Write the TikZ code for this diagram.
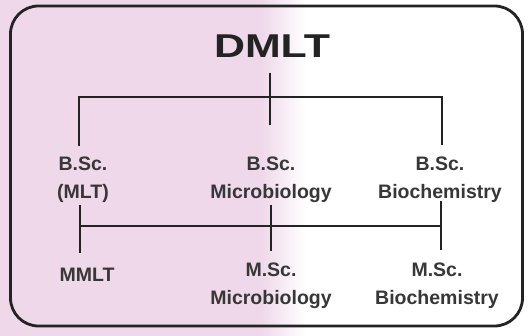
\documentclass[tikz,border=0pt]{standalone}
\usepackage{fontspec}
\setmainfont{Liberation Sans}
\usetikzlibrary{calc}
\definecolor{pinkbg}{RGB}{238,216,234}
\definecolor{inkc}{RGB}{35,35,35}
\definecolor{txtc}{RGB}{55,55,55}
\tikzset{
  lbl/.style={font=\fontsize{19.5}{28}\selectfont\bfseries, text=txtc, align=center, inner sep=0pt},
  conn/.style={draw=inkc, line width=2.4pt},
  frame/.style={draw=inkc, line width=2.8pt, rounded corners=28pt}
}
\begin{document}
\begin{tikzpicture}[x=1pt,y=-1pt]
\useasboundingbox (0,0) rectangle (530,336);
% background
\fill[pinkbg] (0,0) rectangle (262,336);
\shade[left color=pinkbg, right color=white] (261,0) rectangle (305,336);
\fill[white] (304.5,0) rectangle (530,336);
% frame
\draw[frame] (10.5,6) rectangle (522.5,326);
% nodes
\node[font=\fontsize{33}{33}\selectfont\bfseries, text=inkc, inner sep=0pt] (dmlt) at (272,46) {\scalebox{1.3}[1]{DMLT}};
\node[lbl] (b1) at (83,180) {B.Sc.\\(MLT)};
\node[lbl] (b2) at (271,180) {B.Sc.\\Microbiology};
\node[lbl] (b3) at (440,180) {B.Sc.\\Biochemistry};
\node[lbl] (m1) at (87,275) {MMLT};
\node[lbl] (m2) at (271,286) {M.Sc.\\Microbiology};
\node[lbl] (m3) at (437,286) {M.Sc.\\Biochemistry};
% upper connectors
\coordinate (d0) at (270,73);
\coordinate (d1) at (270,125);
\coordinate (hl) at (79,97);
\coordinate (hr) at (442,97);
\coordinate (bl) at (79,146);
\coordinate (br) at (442,145);
\draw[conn] (d0) -- (d1);
\draw[conn] (bl) -- (hl) -- (hr) -- (br);
% lower connectors
\coordinate (u1) at (80,205);
\coordinate (l1) at (80,253);
\coordinate (u2) at (271,205);
\coordinate (l2) at (271,251);
\coordinate (u3) at (441,201);
\coordinate (l3) at (441,250);
\coordinate (ml) at (80,226);
\coordinate (mr) at (441,226);
\draw[conn] (u1) -- (l1);
\draw[conn] (u2) -- (l2);
\draw[conn] (u3) -- (l3);
\draw[conn] (ml) -- (mr);
\end{tikzpicture}
\end{document}
